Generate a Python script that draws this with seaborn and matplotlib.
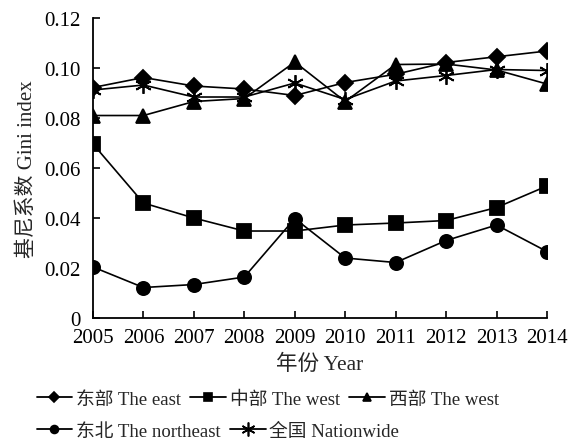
import numpy as np
import pandas as pd
import seaborn as sns
import matplotlib.pyplot as plt
from matplotlib.lines import Line2D

sns.set_style("ticks")
plt.rcParams['font.family'] = ['Liberation Serif', 'Noto Sans CJK SC']
plt.rcParams['axes.unicode_minus'] = False

years = [2005, 2006, 2007, 2008, 2009, 2010, 2011, 2012, 2013, 2014]
east = [0.0922, 0.0962, 0.0928, 0.0916, 0.0890, 0.0942, 0.0975, 0.1022, 0.1045, 0.1068]
central = [0.0696, 0.0460, 0.0400, 0.0348, 0.0348, 0.0372, 0.0380, 0.0390, 0.0442, 0.0528]
west = [0.0810, 0.0810, 0.0866, 0.0878, 0.1024, 0.0866, 0.1014, 0.1016, 0.0992, 0.0936]
northeast = [0.0204, 0.0122, 0.0134, 0.0164, 0.0398, 0.0240, 0.0222, 0.0310, 0.0372, 0.0266]
nationwide = [0.0912, 0.0932, 0.0884, 0.0884, 0.0940, 0.0874, 0.0948, 0.0970, 0.0994, 0.0990]

labels = ['东部 The east', '中部 The west', '西部 The west',
          '东北 The northeast', '全国 Nationwide']
series = [east, central, west, northeast, nationwide]
markers = ['D', 's', '^', 'o', (6, 2, 0)]
msizes = [8.5, 9.5, 10, 9.5, 12]

fig = plt.figure(figsize=(5.83, 4.39), dpi=100)
ax = fig.add_axes([0.1595, 0.2733, 0.7787, 0.6834])

for vals, lab, mk, ms in zip(series, labels, markers, msizes):
    sns.lineplot(x=years, y=vals, ax=ax, color='k', lw=1.2, marker=mk,
                 markersize=ms, markeredgecolor='k', markeredgewidth=1.3,
                 label=lab, legend=False)

ax.set_xlim(2005, 2014)
ax.set_ylim(0, 0.12)
ax.set_xticks(years)
ax.set_yticks([0, 0.02, 0.04, 0.06, 0.08, 0.10, 0.12])
ax.set_yticklabels(['0', '0.02', '0.04', '0.06', '0.08', '0.10', '0.12'])
ax.tick_params(direction='in', length=5, width=1.2, labelsize=15, colors='k')
ax.tick_params(axis='x', pad=7)
ax.tick_params(axis='y', pad=9)
for s in ['top', 'right']:
    ax.spines[s].set_visible(False)
for s in ['left', 'bottom']:
    ax.spines[s].set_linewidth(1.3)
    ax.spines[s].set_color('k')

ax.set_xlabel('年份 Year', fontsize=15.5, labelpad=5)
ax.set_ylabel('基尼系数 Gini index', fontsize=15, labelpad=5)

def handle(mk, ms):
    return Line2D([], [], color='k', lw=1.3, marker=mk, markersize=ms,
                  markeredgewidth=1.2)

hs = [handle(m, s * 0.6) for m, s in zip(markers, msizes)]
hs[4] = handle(markers[4], 10)
kw = dict(frameon=False, fontsize=13.5, handlelength=1.9, handletextpad=0.2,
          columnspacing=0.5, borderaxespad=0)
fig.legend(hs[:3], labels[:3], loc='center left', bbox_to_anchor=(0.05, 0.088),
           ncol=3, **kw)
fig.legend(hs[3:], labels[3:], loc='center left', bbox_to_anchor=(0.05, 0.016),
           ncol=2, **kw)

fig.savefig('out.png', dpi=100)
